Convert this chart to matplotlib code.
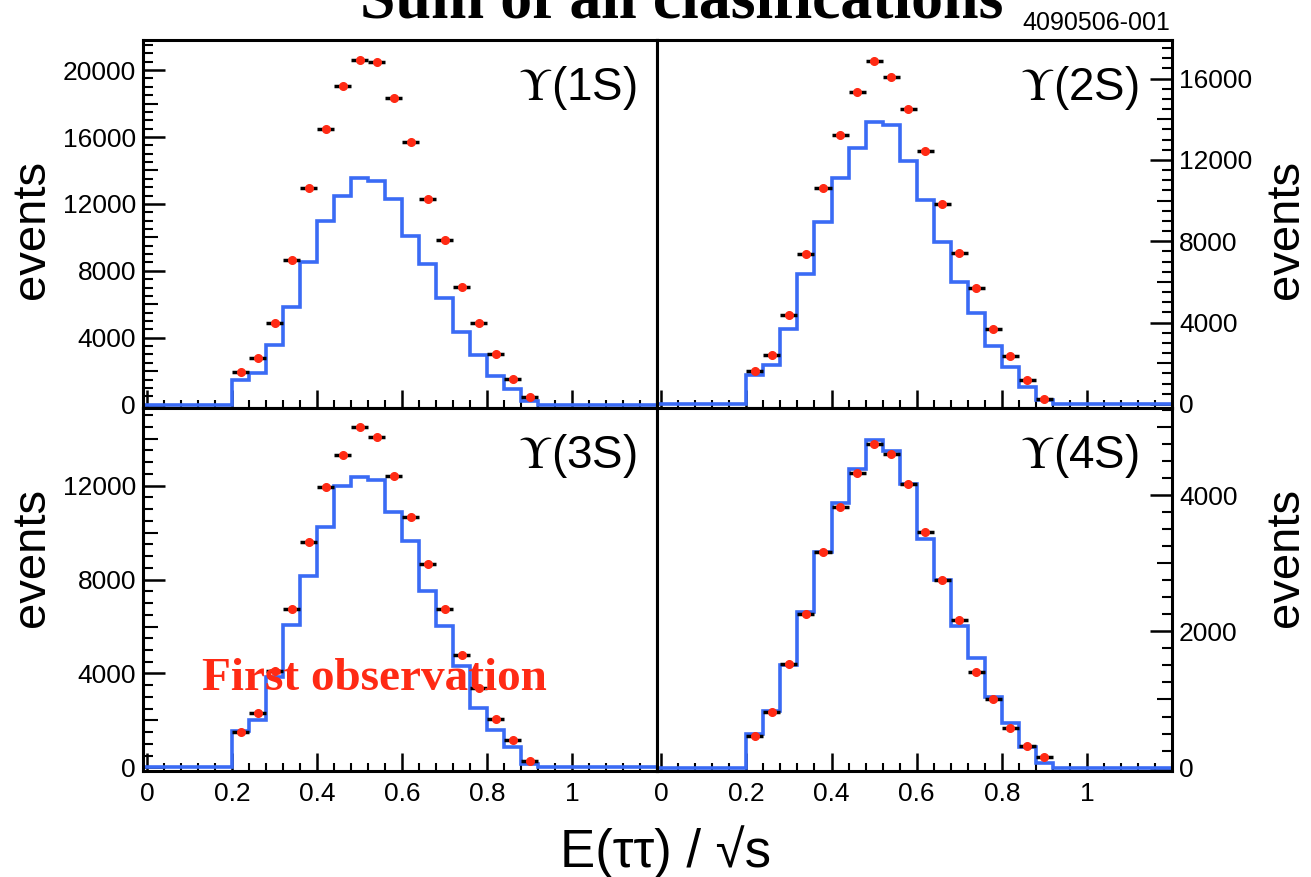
import numpy as np
import matplotlib.pyplot as plt
from matplotlib.ticker import MultipleLocator, FixedLocator, FuncFormatter

plt.rcParams['font.family'] = ['Liberation Sans', 'DejaVu Sans']
plt.rcParams['mathtext.fontset'] = 'stix'

# bin edges of E(tautau)/sqrt(s) histograms
edges = [0.20, 0.24, 0.28, 0.32, 0.36, 0.40, 0.44, 0.48, 0.52, 0.56,
         0.60, 0.64, 0.68, 0.72, 0.76, 0.80, 0.84, 0.88, 0.92]
centers = [0.22, 0.26, 0.30, 0.34, 0.38, 0.42, 0.46, 0.50, 0.54,
           0.58, 0.62, 0.66, 0.70, 0.74, 0.78, 0.82, 0.86, 0.90]

# MC histograms (blue)
mc_1s = [1500, 1900, 3560, 5860, 8500, 11000, 12500, 13560, 13400,
         12300, 10100, 8400, 6400, 4360, 2940, 1740, 940, 200]
mc_2s = [1400, 1900, 3710, 6400, 8940, 11090, 12590, 13860, 13730,
         11960, 10030, 7970, 6020, 4460, 2850, 1820, 830, 200]
mc_3s = [1550, 2040, 3870, 6060, 8130, 10250, 11970, 12370, 12250,
         10890, 9650, 7490, 6010, 4300, 2540, 1590, 890, 140]
mc_4s = [490, 830, 1500, 2280, 3170, 3890, 4390, 4810, 4650,
         4170, 3350, 2750, 2080, 1610, 1040, 660, 300, 70]

# data points (red)
data_1s = [1940, 2800, 4900, 8660, 12960, 16500, 19040, 20600, 20480,
           18360, 15700, 12320, 9860, 7060, 4900, 3040, 1560, 440]
data_2s = [1620, 2430, 4370, 7390, 10640, 13250, 15330, 16880, 16090,
           14520, 12430, 9850, 7430, 5690, 3710, 2340, 1160, 250]
data_3s = [1510, 2320, 4100, 6730, 9610, 11940, 13310, 14510, 14060,
           12420, 10680, 8650, 6730, 4790, 3380, 2080, 1170, 280]
data_4s = [470, 810, 1520, 2260, 3160, 3830, 4330, 4750, 4600,
           4170, 3460, 2750, 2170, 1410, 1000, 580, 320, 150]

labels = ['1S', '2S', '3S', '4S']
ylims = [(-200, 21800), (-200, 17900), (-150, 15300), (-50, 5280)]
ymajor = [4000, 4000, 4000, 2000]
ymid = [2000, 2000, 2000, 1000]
yminor = [500, 500, 500, 250]

blue = '#3a6bf5'
red = '#ff2a14'
xmin, xmax = -0.01, 1.2

fig = plt.figure(figsize=(13.11, 8.77), dpi=100)
x0, xm, x1 = 143 / 1311, 657 / 1311, 1172 / 1311
yt, ym, yb = 1 - 40 / 877, 1 - 408 / 877, 1 - 771 / 877
rects = [(x0, ym, xm - x0, yt - ym), (xm, ym, x1 - xm, yt - ym),
         (x0, yb, xm - x0, ym - yb), (xm, yb, x1 - xm, ym - yb)]

mcs = [mc_1s, mc_2s, mc_3s, mc_4s]
datas = [data_1s, data_2s, data_3s, data_4s]

for i, rect in enumerate(rects):
    ax = fig.add_axes(rect)
    right = i % 2 == 1
    bottom = i >= 2

    ax.stairs([0] + mcs[i] + [0], [xmin] + edges + [xmax], color=blue,
              lw=2.6, baseline=None, zorder=2)
    ax.errorbar(centers, datas[i], xerr=0.02, fmt='o', ms=5.5, mfc=red,
                mec=red, ecolor='black', elinewidth=2.5, capsize=0, zorder=3)

    ax.set_xlim(xmin, xmax)
    ax.set_ylim(*ylims[i])

    for s in ax.spines.values():
        s.set_linewidth(2.2)

    ax.xaxis.set_major_locator(FixedLocator([0, 0.2, 0.4, 0.6, 0.8, 1.0]))
    ax.xaxis.set_minor_locator(MultipleLocator(0.04))
    ax.xaxis.set_major_formatter(FuncFormatter(lambda v, p: '%g' % v))
    ax.tick_params(axis='x', which='both', direction='in', bottom=True,
                   top=False, labelbottom=bottom, labelsize=19, pad=8)
    ax.tick_params(axis='x', which='major', length=13, width=1.8)
    ax.tick_params(axis='x', which='minor', length=6, width=1.5)

    ax.yaxis.set_major_locator(MultipleLocator(ymajor[i]))
    ax.yaxis.set_minor_locator(MultipleLocator(yminor[i]))
    ax.yaxis.set_major_formatter(FuncFormatter(lambda v, p: '%d' % v))
    if right:
        ax.yaxis.tick_right()
        ax.yaxis.set_label_position('right')
    ax.tick_params(axis='y', which='both', direction='in', left=not right,
                   right=right, labelsize=19, pad=5)
    ax.tick_params(axis='y', which='major', length=16, width=1.8)
    ax.tick_params(axis='y', which='minor', length=7, width=1.5)

    # medium-length ticks halfway between labelled ones
    for t, loc in zip(ax.yaxis.get_minor_ticks(), ax.yaxis.get_minorticklocs()):
        if abs(loc / ymid[i] - round(loc / ymid[i])) < 1e-6:
            t.tick1line.set_markersize(11)
            t.tick2line.set_markersize(11)

    ax.set_ylabel('events', fontsize=34)
    ly = 0.485 if not bottom else 0.587
    ax.yaxis.set_label_coords(1.179 if right else -0.173, ly)

    ax.text(0.935 if right else 0.96, 0.935, r'$\Upsilon$(' + labels[i] + ')',
            transform=ax.transAxes, ha='right', va='top', fontsize=33)

    if i == 2:
        ax.text(0.115, 0.223, 'First observation', transform=ax.transAxes,
                color=red, fontsize=34, fontweight='bold',
                family=['Liberation Serif', 'DejaVu Serif'], zorder=5)

fig.text(0.508, 1 - 867 / 877, 'E(ττ) / √s', ha='center', va='baseline',
         fontsize=38)
fig.text(0.52, 1 - 17 / 877, 'Sum of all clasifications', ha='center',
         va='baseline', fontsize=46, fontweight='bold',
         family=['Liberation Serif', 'DejaVu Serif'])
fig.text(1170 / 1311, 1 - 30 / 877, '4090506-001', ha='right', va='baseline',
         fontsize=18)

fig.savefig('out.png', dpi=100)
